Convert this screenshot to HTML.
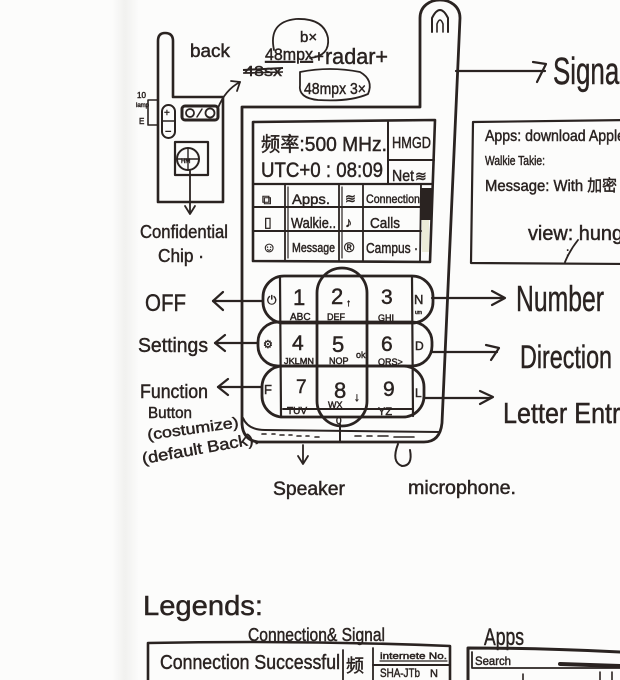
<!DOCTYPE html>
<html><head><meta charset="utf-8"><style>
html,body{margin:0;padding:0;background:#fcfcfb;}
svg{display:block;}
text{font-family:"Liberation Sans","Noto Sans CJK SC",sans-serif;fill:#2a2321;stroke:#2a2321;stroke-width:0.45;}
</style></head><body>
<svg width="620" height="680" viewBox="0 0 620 680" xmlns="http://www.w3.org/2000/svg">
<defs>
<linearGradient id="edge" x1="0" x2="1" y1="0" y2="0">
<stop offset="0" stop-color="#fcfcfb"/><stop offset="0.5" stop-color="#f1f1ef"/><stop offset="1" stop-color="#fbfbfa"/>
</linearGradient>
</defs>
<rect x="0" y="0" width="620" height="680" fill="#fcfcfb"/>
<rect x="112" y="0" width="26" height="680" fill="url(#edge)"/>

<g fill="none" stroke="#2a2321" stroke-width="2.6" stroke-linecap="round" stroke-linejoin="round">
<!-- back view phone -->
<path d="M158,202 L158,41 Q158,33 165,33 Q173,33 173,41 L173,97 L223,97 L223,202 Z"/>
<path d="M158,100 L148,100 L148,125 L158,125" stroke-width="1.6"/>
<rect x="162" y="105" width="13" height="33" rx="6.5" stroke-width="2"/>
<line x1="163" y1="121" x2="174" y2="121" stroke-width="1.5"/>
<rect x="182" y="106" width="36" height="14" rx="3" stroke-width="3"/>
<circle cx="190" cy="113" r="4" stroke-width="1.8"/>
<circle cx="210" cy="113" r="4.5" stroke-width="1.8"/>
<line x1="197" y1="117" x2="202" y2="109" stroke-width="1.5"/>
<path d="M218,108 Q225,90 240,82" stroke-width="1.8"/>
<path d="M231,81 L240,82 L237,91" stroke-width="1.8"/>
<rect x="175" y="142" width="33" height="33" stroke-width="2.2"/>
<circle cx="188" cy="159" r="11" stroke-width="2"/>
<line x1="177" y1="159" x2="199" y2="159" stroke-width="1.4"/>
<line x1="188" y1="148" x2="188" y2="170" stroke-width="1.4"/>
<line x1="190" y1="171" x2="190" y2="213" stroke-width="1.8"/>
<path d="M185,206 L190,214 L195,206" stroke-width="1.8"/>

<!-- ellipses top -->
<path d="M274,50 Q268,22 296,19 Q324,18 328,38 Q330,56 310,58" stroke-width="1.8"/>
<path d="M300,72 Q330,66 360,72 Q374,80 368,94 Q350,102 318,100 Q298,98 300,85 Z" stroke-width="1.8"/>

<!-- main phone outline -->
<path d="M420,107 L420,18 C420,-6 460,-6 460,18 L442,423 Q440,442 424,442 L258,442 Q243,440 242,424 L242,107 Z" stroke-width="2.8"/>
<path d="M432,32 L432,18 Q440,2 448,18 L448,32" stroke-width="2"/>
<path d="M437,32 L437,24 Q440,16 443,24 L443,32" stroke-width="1.6"/>

<!-- screen -->
<path d="M253,122 L435,120 L430,262 L253,261 Z" stroke-width="2.6"/>
<line x1="388" y1="122" x2="388" y2="184" stroke-width="2"/>
<line x1="388" y1="160" x2="434" y2="160" stroke-width="2"/>
<line x1="253" y1="184" x2="432" y2="184" stroke-width="2.2"/>
<line x1="253" y1="207" x2="421" y2="207" stroke-width="2"/>
<line x1="253" y1="231" x2="421" y2="231" stroke-width="2"/>
<line x1="285" y1="184" x2="285" y2="261" stroke-width="1.8"/>
<line x1="288" y1="187" x2="288" y2="258" stroke-width="1.2"/>
<line x1="339" y1="184" x2="339" y2="261" stroke-width="1.8"/>
<line x1="342" y1="187" x2="342" y2="258" stroke-width="1.2"/>
<line x1="363" y1="184" x2="363" y2="261" stroke-width="1.8"/>
<line x1="421" y1="184" x2="420" y2="261" stroke-width="1.8"/>

<!-- keypad -->
<rect x="263" y="276" width="170" height="47" rx="21" stroke-width="2.8"/>
<rect x="258" y="322" width="174" height="44" rx="20" stroke-width="2.8"/>
<rect x="262" y="366" width="162" height="51" rx="21" stroke-width="2.8"/>
<rect x="317" y="268" width="50" height="158" rx="25" stroke-width="2.8"/>
<line x1="280" y1="278" x2="281" y2="416" stroke-width="2.2"/>
<line x1="412" y1="277" x2="413" y2="416" stroke-width="2.2"/>
<line x1="283" y1="409" x2="413" y2="409" stroke-width="2"/>

<!-- phone bottom -->
<path d="M243,418 Q248,430 265,430 L440,432" stroke-width="2"/>
<line x1="340" y1="424" x2="340" y2="442" stroke-width="2"/>
<path d="M262,434 h4 M272,434 h3 M280,435 h4 M289,435 h3 M297,436 h4 M306,436 h3 M315,437 h4 M355,436 h6 M367,436 h5 M378,436 h10 M394,437 h20" stroke-width="1.6"/>
<path d="M398,444 Q391,462 402,466 Q413,466 410,450" stroke-width="2"/>

<!-- left arrows -->
<line x1="213" y1="301" x2="262" y2="301" stroke-width="2.2"/>
<path d="M223,292 L213,301 L223,310" stroke-width="2.2"/>
<line x1="215" y1="343" x2="258" y2="343" stroke-width="2.2"/>
<path d="M225,335 L215,343 L225,351" stroke-width="2.2"/>
<line x1="218" y1="387" x2="262" y2="387" stroke-width="2.2"/>
<path d="M228,379 L218,387 L228,395" stroke-width="2.2"/>
<line x1="303" y1="445" x2="303" y2="463" stroke-width="1.8"/>
<path d="M298,456 L303,464 L308,456" stroke-width="1.8"/>

<!-- right arrows -->
<line x1="456" y1="71" x2="545" y2="71" stroke-width="2.2"/>
<path d="M533,62 L546,64 L537,82" stroke-width="2.2"/>
<line x1="432" y1="298" x2="503" y2="298" stroke-width="2.2"/>
<path d="M492,291 L505,298 L492,305" stroke-width="2.2"/>
<line x1="432" y1="352" x2="497" y2="352" stroke-width="2.2"/>
<path d="M486,345 L499,348 L491,360" stroke-width="2.2"/>
<line x1="425" y1="398" x2="490" y2="398" stroke-width="2.2"/>
<path d="M480,391 L493,397 L480,404" stroke-width="2.2"/>

<!-- notes box -->
<path d="M473,122 L630,120 M473,122 L471,263 L630,264" stroke-width="2.2"/>
<path d="M565,262 Q570,250 578,240" stroke-width="1.8"/>

<!-- legends boxes -->
<path d="M148,690 L148,643 Q300,640 450,646 L450,690" stroke-width="2.6"/>
<line x1="343" y1="650" x2="343" y2="690" stroke-width="1.8"/>
<line x1="373" y1="648" x2="373" y2="690" stroke-width="1.8"/>
<line x1="373" y1="665" x2="450" y2="665" stroke-width="2"/>
<line x1="380" y1="661" x2="447" y2="661" stroke-width="1.2"/>
<path d="M468,690 L468,648 Q540,648 620,652" stroke-width="3"/>
<path d="M472,652 L472,668 L620,668" stroke-width="1.8"/>
<path d="M560,664 L620,666" stroke-width="4"/>
<line x1="523" y1="674" x2="523" y2="690" stroke-width="1.6"/>
<line x1="600" y1="672" x2="600" y2="690" stroke-width="1.6"/>
<line x1="612" y1="672" x2="612" y2="690" stroke-width="1.6"/>
</g>

<!-- fills -->
<rect x="421" y="188" width="11" height="32" fill="#2a2321"/>
<rect x="422" y="220" width="7" height="32" fill="#ecebd8"/>

<!-- back view labels -->
<text x="137" y="98" font-size="8">10</text>
<text x="136" y="107" font-size="6">lamp</text>
<text x="139" y="124" font-size="8">E</text>
<text x="164" y="116" font-size="10">+</text>
<text x="165" y="135" font-size="11">−</text>
<text x="181" y="163" font-size="6">HM</text>
<text x="190" y="57" font-size="18" textLength="40" lengthAdjust="spacingAndGlyphs">back</text>
<text x="140" y="238" font-size="18" textLength="88" lengthAdjust="spacingAndGlyphs">Confidential</text>
<text x="158" y="262" font-size="18" textLength="46" lengthAdjust="spacingAndGlyphs">Chip ·</text>

<!-- top annotations -->
<text x="300" y="42" font-size="15">b×</text>
<text x="265" y="60" font-size="17" textLength="48" lengthAdjust="spacingAndGlyphs" text-decoration="underline">48mpx</text>
<text x="314" y="62" font-size="17">+</text>
<text x="325" y="64" font-size="22" textLength="63" lengthAdjust="spacingAndGlyphs">radar+</text>
<text x="244" y="76" font-size="15" textLength="38" lengthAdjust="spacingAndGlyphs">48sx</text>
<line x1="243" y1="70" x2="283" y2="68" stroke="#2a2321" stroke-width="2"/>
<line x1="243" y1="73" x2="283" y2="72" stroke="#2a2321" stroke-width="1.5"/>
<text x="304" y="94" font-size="16" textLength="62" lengthAdjust="spacingAndGlyphs">48mpx 3×</text>

<!-- screen text -->
<text x="261" y="151" font-size="20" textLength="126" lengthAdjust="spacingAndGlyphs">频率:500 MHz.</text>
<text x="261" y="177" font-size="21" textLength="122" lengthAdjust="spacingAndGlyphs">UTC+0 : 08:09</text>
<text x="392" y="148" font-size="16" textLength="39" lengthAdjust="spacingAndGlyphs">HMGD</text>
<text x="392" y="181" font-size="16" textLength="22" lengthAdjust="spacingAndGlyphs">Net</text>
<text x="415" y="181" font-size="14">≋</text>
<text x="262" y="204" font-size="13">⧉</text>
<text x="292" y="204" font-size="14" textLength="38" lengthAdjust="spacingAndGlyphs">Apps.</text>
<text x="345" y="203" font-size="13">≋</text>
<text x="366" y="203" font-size="12" textLength="54" lengthAdjust="spacingAndGlyphs">Connection</text>
<text x="264" y="227" font-size="14">▯</text>
<text x="291" y="228" font-size="15" textLength="45" lengthAdjust="spacingAndGlyphs">Walkie..</text>
<text x="345" y="227" font-size="14">♪</text>
<text x="370" y="228" font-size="15" textLength="30" lengthAdjust="spacingAndGlyphs">Calls</text>
<text x="262" y="252" font-size="14">☺</text>
<text x="292" y="252" font-size="13" textLength="43" lengthAdjust="spacingAndGlyphs">Message</text>
<text x="344" y="252" font-size="14">®</text>
<text x="366" y="253" font-size="15" textLength="52" lengthAdjust="spacingAndGlyphs">Campus ·</text>

<!-- keypad text -->
<text x="267" y="304" font-size="12">⏻</text>
<text x="293" y="305" font-size="22">1</text>
<text x="290" y="320" font-size="10">ABC</text>
<text x="331" y="304" font-size="22">2</text>
<text x="346" y="306" font-size="10">↑</text>
<text x="327" y="320" font-size="9">DEF</text>
<text x="381" y="304" font-size="21">3</text>
<text x="378" y="321" font-size="9">GHI</text>
<text x="414" y="304" font-size="13">N</text>
<text x="415" y="314" font-size="5">um</text>
<text x="263" y="348" font-size="11">⚙</text>
<text x="292" y="350" font-size="21">4</text>
<text x="284" y="364" font-size="8" textLength="30" lengthAdjust="spacingAndGlyphs">JKLMN</text>
<text x="332" y="352" font-size="22">5</text>
<text x="329" y="364" font-size="9">NOP</text>
<text x="356" y="358" font-size="9">ok</text>
<text x="381" y="351" font-size="21">6</text>
<text x="378" y="365" font-size="9">QRS&gt;</text>
<text x="415" y="350" font-size="12">D</text>
<text x="264" y="394" font-size="13">F</text>
<text x="296" y="393" font-size="19">7</text>
<text x="287" y="414" font-size="10">TUV</text>
<text x="334" y="398" font-size="22">8</text>
<text x="328" y="408" font-size="9">WX</text>
<text x="354" y="401" font-size="12">↓</text>
<text x="383" y="396" font-size="21">9</text>
<text x="378" y="415" font-size="11">YZ</text>
<text x="336" y="424" font-size="10">0</text>
<text x="415" y="397" font-size="12">L</text>

<!-- left labels -->
<text x="145" y="311" font-size="24" textLength="41" lengthAdjust="spacingAndGlyphs">OFF</text>
<text x="138" y="352" font-size="20" textLength="70" lengthAdjust="spacingAndGlyphs">Settings</text>
<text x="140" y="398" font-size="19" textLength="68" lengthAdjust="spacingAndGlyphs">Function</text>
<text x="148" y="418" font-size="16" textLength="44" lengthAdjust="spacingAndGlyphs">Button</text>
<text x="148" y="440" font-size="15" textLength="92" lengthAdjust="spacingAndGlyphs" transform="rotate(-8 148 440)">(costumize)</text>
<text x="143" y="464" font-size="16" textLength="118" lengthAdjust="spacingAndGlyphs" transform="rotate(-10 143 464)">(default Back).</text>
<text x="273" y="495" font-size="19" textLength="72" lengthAdjust="spacingAndGlyphs">Speaker</text>
<text x="408" y="494" font-size="19" textLength="108" lengthAdjust="spacingAndGlyphs">microphone.</text>

<!-- right labels -->
<text x="553" y="84" font-size="38" textLength="72" lengthAdjust="spacingAndGlyphs">Signal</text>
<text x="485" y="141" font-size="16" textLength="140" lengthAdjust="spacingAndGlyphs">Apps: download Apple</text>
<text x="485" y="165" font-size="13" textLength="60" lengthAdjust="spacingAndGlyphs">Walkie Takie:</text>
<text x="485" y="191" font-size="16" textLength="132" lengthAdjust="spacingAndGlyphs">Message: With 加密</text>
<text x="528" y="240" font-size="20" textLength="95" lengthAdjust="spacingAndGlyphs">view: hung</text>
<text x="566" y="256" font-size="12">:</text>
<text x="516" y="311" font-size="36" textLength="88" lengthAdjust="spacingAndGlyphs">Number</text>
<text x="520" y="368" font-size="32" textLength="92" lengthAdjust="spacingAndGlyphs">Direction</text>
<text x="503" y="423" font-size="29" textLength="130" lengthAdjust="spacingAndGlyphs">Letter Entry</text>

<!-- legends -->
<text x="143" y="615" font-size="28" textLength="120" lengthAdjust="spacingAndGlyphs">Legends:</text>
<text x="248" y="641" font-size="18" textLength="137" lengthAdjust="spacingAndGlyphs">Connection&amp; Signal</text>
<text x="160" y="669" font-size="20" textLength="180" lengthAdjust="spacingAndGlyphs">Connection Successful</text>
<text x="346" y="672" font-size="18">频</text>
<text x="380" y="659" font-size="9" textLength="67" lengthAdjust="spacingAndGlyphs">internete No.</text>
<text x="380" y="677" font-size="12" textLength="40" lengthAdjust="spacingAndGlyphs">SHA-JTb</text>
<text x="430" y="677" font-size="11">N</text>
<text x="484" y="645" font-size="24" textLength="40" lengthAdjust="spacingAndGlyphs">Apps</text>
<text x="475" y="665" font-size="12" textLength="36" lengthAdjust="spacingAndGlyphs">Search</text>
</svg>
</body></html>
